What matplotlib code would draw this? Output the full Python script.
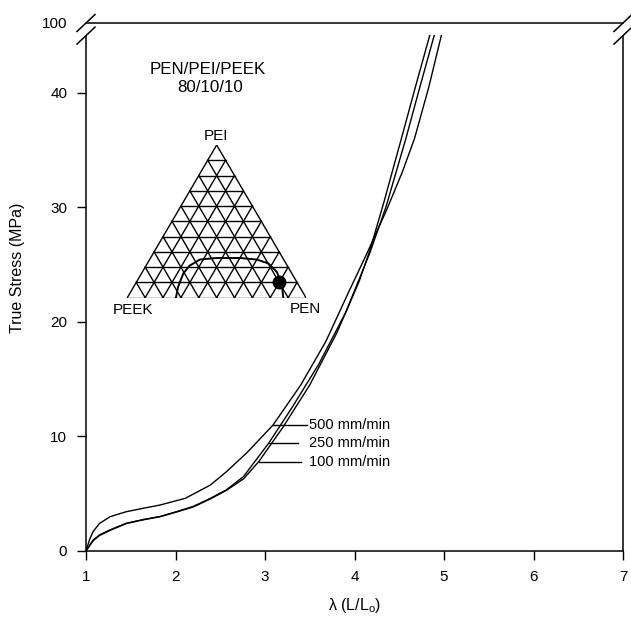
# True stress vs draw ratio for PEN/PEI/PEEK 80/10/10 blend, with ternary inset
import numpy as np
import matplotlib
matplotlib.use("Agg")
import matplotlib.pyplot as plt

plt.rcParams['font.family'] = ['Liberation Sans', 'DejaVu Sans']
plt.rcParams['mathtext.fontset'] = 'custom'
plt.rcParams['mathtext.rm'] = 'Liberation Sans'
plt.rcParams['mathtext.it'] = 'Liberation Sans'

# Stress-strain curves (draw ratio, true stress in MPa)
lam_500 = [1.0, 1.04, 1.08, 1.15, 1.27, 1.45, 1.64, 1.83, 2.11, 2.39, 2.57, 2.8, 3.09, 3.4, 3.68, 3.94, 4.14, 4.36, 4.53, 4.67, 4.83, 4.97]
sig_500 = [0.0, 1.0, 1.7, 2.4, 3.0, 3.43, 3.73, 4.02, 4.6, 5.76, 6.93, 8.6, 11.0, 14.5, 18.3, 22.7, 26.0, 29.8, 33.0, 36.0, 40.5, 45.0]

lam_250 = [1.0, 1.04, 1.08, 1.15, 1.27, 1.45, 1.64, 1.83, 2.01, 2.2, 2.39, 2.57, 2.76, 3.04, 3.3, 3.6, 3.9, 4.17, 4.35, 4.57, 4.73, 4.89]
sig_250 = [0.0, 0.5, 0.96, 1.4, 1.85, 2.42, 2.75, 3.02, 3.43, 3.9, 4.6, 5.35, 6.5, 9.4, 12.5, 16.3, 20.8, 26.0, 30.0, 35.9, 40.5, 45.0]

lam_100 = [1.0, 1.04, 1.08, 1.15, 1.27, 1.45, 1.64, 1.83, 2.01, 2.2, 2.39, 2.57, 2.76, 2.93, 3.2, 3.5, 3.8, 4.05, 4.17, 4.33, 4.52, 4.68, 4.84]
sig_100 = [0.0, 0.45, 0.9, 1.35, 1.8, 2.4, 2.72, 3.0, 3.4, 3.85, 4.55, 5.3, 6.3, 7.8, 10.8, 14.5, 19.0, 23.5, 26.2, 30.5, 35.9, 40.5, 45.0]

rate_labels = ["500 mm/min", "250 mm/min", "100 mm/min"]

xticks = [1, 2, 3, 4, 5, 6, 7]
yticks = [0, 10, 20, 30, 40]

# Ternary inset: binodal-like boundary (PEN %, PEI %) and blend composition
arc_pen = [27.2, 24.9, 23.4, 24.4, 28.2, 36.9, 50.0, 59.9, 67.6, 75.1, 81.7, 87.3]
arc_pei = [0.0, 7.0, 16.0, 21.0, 25.0, 26.0, 26.0, 25.0, 22.5, 17.0, 9.4, 0.0]
blend_pen, blend_pei, blend_peek = 80, 10, 10

fig = plt.figure(figsize=(6.31, 6.19), dpi=100)
ax = fig.add_axes([86/631, 1-551/619, 537/631, 528/619])

top = 46.1
ax.plot(lam_500, sig_500, color='black', lw=1.0)
ax.plot(lam_250, sig_250, color='black', lw=1.0)
ax.plot(lam_100, sig_100, color='black', lw=1.0)

ax.set_xlim(1, 7)
ax.set_ylim(0, top)
ax.set_xticks(xticks)
ax.set_yticks(yticks + [top])
ax.set_yticklabels([str(v) for v in yticks] + ["100"])
ax.yaxis.get_major_ticks()[-1].tick1line.set_visible(False)
ax.tick_params(direction='out', length=6.5, width=1.0, labelsize=11)
ax.tick_params(axis='y', pad=7)
ax.tick_params(axis='x', pad=7)

for s in ax.spines.values():
    s.set_linewidth(1.1)
ax.spines['left'].set_bounds(0, 45)
ax.spines['right'].set_bounds(0, 45)

# axis break marks
for xb in (0, 1):
    for yb in (top, 45):
        yf = yb / top
        ax.plot([xb - 9/537, xb + 9/537], [yf - 8.5/528, yf + 8.5/528],
                transform=ax.transAxes, color='black', lw=1.1, clip_on=False)

ax.set_xlabel(r"λ (L/L$_\mathrm{o}$)", fontsize=11.5, labelpad=9)
fig.text(18/631, 1-268/619, "True Stress (MPa)", rotation=90, ha='center', va='center', fontsize=11.5)

# rate labels with leader lines
label_y = [11.0, 9.4, 7.8]
start_x = [np.interp(11.0, sig_500, lam_500), np.interp(9.4, sig_250, lam_250), np.interp(7.8, sig_100, lam_100)]
end_x = [3.47, 3.37, 3.40]
for lab, yv, x0, x1 in zip(rate_labels, label_y, start_x, end_x):
    ax.plot([x0, x1], [yv, yv], color='black', lw=1.0)
    ax.text(3.49, yv, lab, ha='left', va='center', fontsize=10.5)

ax.text(208/631, 1-70/619, "PEN/PEI/PEEK", transform=fig.transFigure, ha='center', va='center', fontsize=12.2)
ax.text(210/631, 1-88/619, "80/10/10", transform=fig.transFigure, ha='center', va='center', fontsize=12.2)

# ternary inset
h = np.sqrt(3) / 2
tax = fig.add_axes([127.3/631, 1-297.7/619, 178.7/631, 152.7/619])
tax.set_xlim(0, 1)
tax.set_ylim(0, h)
tax.axis('off')

def tern(pen, pei):
    pen = np.asarray(pen) / 100.0
    pei = np.asarray(pei) / 100.0
    return pen + pei / 2, pei * h

n = 10
for i in range(n + 1):
    f = i / n
    # lines of constant PEI (horizontal)
    tax.plot([f / 2, 1 - f / 2], [f * h, f * h], color='black', lw=1.0)
    # lines of constant PEN
    tax.plot([f, f / 2 + 0.5], [0, (1 - f) * h], color='black', lw=1.0)
    # lines of constant PEEK
    tax.plot([f, f / 2], [0, f * h], color='black', lw=1.0)

ax_x, ax_y = tern(arc_pen, arc_pei)
tax.plot(ax_x, ax_y, color='black', lw=1.4)
bx, by = tern(blend_pen, blend_pei)
tax.plot(bx, by, 'o', color='black', ms=9, clip_on=False)

fig.text(216/631, 1-136/619, "PEI", ha='center', va='center', fontsize=11)
fig.text(133/631, 1-310/619, "PEEK", ha='center', va='center', fontsize=11)
fig.text(305/631, 1-309/619, "PEN", ha='center', va='center', fontsize=11)

fig.savefig("out.png", dpi=100)
